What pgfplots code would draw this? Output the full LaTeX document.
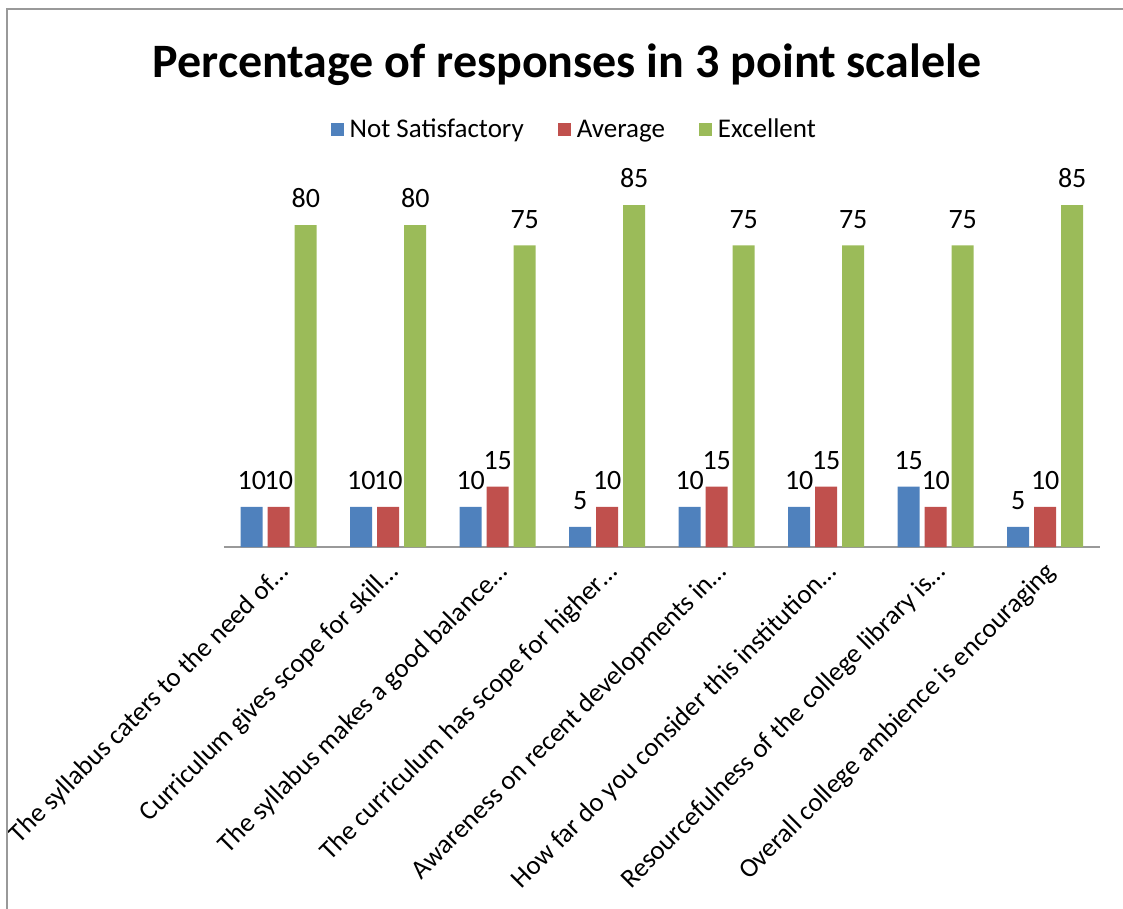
\documentclass[border=0pt]{standalone}
\usepackage{pgfplots}
\pgfplotsset{compat=1.18}
\usepackage{fontspec}
\setmainfont{Carlito}

\definecolor{nsblue}{HTML}{4F81BD}
\definecolor{avred}{HTML}{C0504D}
\definecolor{exgreen}{HTML}{9BBB59}

% 1 px of the reference = 0.5pt
\begin{document}
\begin{tikzpicture}
\begin{axis}[
    at={(0,0)}, anchor=south west,
    scale only axis,
    width=438pt, height=181pt,
    xmin=-0.5, xmax=7.5,
    ymin=0, ymax=90,
    ybar=2.5pt, bar width=11pt,
    axis y line=none,
    axis x line*=bottom,
    x axis line style={-, draw=gray!80, line width=1pt},
    xtick={0,...,7},
    major tick length=0pt,
    xticklabels={
        The syllabus caters to the need of\dots,
        Curriculum gives scope for skill\dots,
        The syllabus makes a good balance\dots,
        The curriculum has scope for higher\dots,
        Awareness on recent developments in\dots,
        How far do you consider this institution\dots,
        Resourcefulness of the college library is\dots,
        Overall college ambience is encouraging},
    x tick label style={rotate=45, anchor=east, font=\fontsize{13.4}{16}\selectfont,
        inner sep=0pt, xshift=-5.2pt, yshift=-9.8pt},
    /pgf/number format/assume math mode=true,
    nodes near coords,
    every node near coord/.append style={font=\fontsize{14}{16}\selectfont, black, yshift=5pt},
    clip=false,
    legend style={
        at={(0.401,1.152)}, anchor=center,
        draw=none, fill=none,
        legend columns=3,
        font=\fontsize{13.5}{16}\selectfont,
        /tikz/every odd column/.append style={column sep=1pt},
        /tikz/every even column/.append style={column sep=15pt},
    },
    legend image code/.code={\fill[#1] (0pt,-3.25pt) rectangle (6.5pt,3.25pt);},
    title={\bfseries Percentage of responses in 3 point scalele},
    title style={at={(0.3916,1.30)}, anchor=center, font=\fontsize{24}{28}\selectfont},
]
\addplot[fill=nsblue, draw=none] coordinates {(0,10) (1,10) (2,10) (3,5) (4,10) (5,10) (6,15) (7,5)};
\addplot[fill=avred, draw=none] coordinates {(0,10) (1,10) (2,15) (3,10) (4,15) (5,15) (6,10) (7,10)};
\addplot[fill=exgreen, draw=none] coordinates {(0,80) (1,80) (2,75) (3,85) (4,75) (5,75) (6,75) (7,85)};
\legend{Not Satisfactory, Average, Excellent}
\end{axis}
\pgfresetboundingbox
\path[use as bounding box] (-112pt,-181pt) rectangle (449.5pt,273.5pt);
\draw[gray!80, line width=1pt] (-108.5pt,-181pt) -- (-108.5pt,269pt) -- (449.5pt,269pt);
\end{tikzpicture}
\end{document}
